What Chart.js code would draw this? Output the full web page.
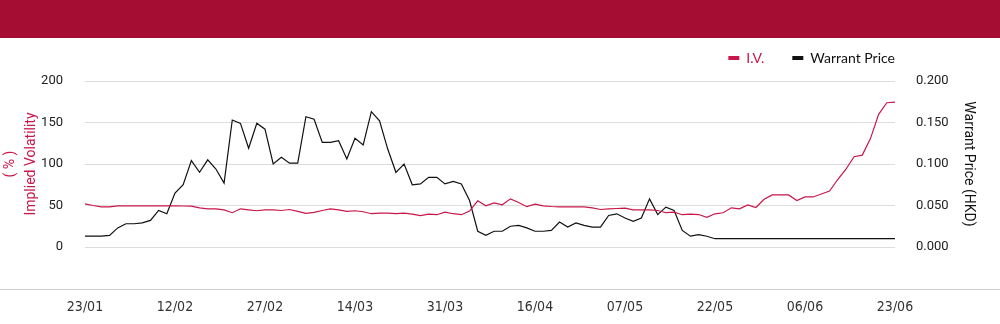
<!DOCTYPE html>
<html>
<head>
<meta charset="utf-8">
<script src="https://cdn.jsdelivr.net/npm/chart.js@4"></script>
<style>
  html, body { margin: 0; padding: 0; background: #fff; }
  body { width: 1000px; height: 324px; position: relative; overflow: hidden; }
  #top { position: absolute; left: 0; top: 0; width: 1000px; height: 38px; background: #a50e32; z-index: 2; }
  #wrap { position: absolute; left: 0; top: 23px; width: 1000px; height: 301px; z-index: 1; }
</style>
</head>
<body>
<div id="top"></div>
<div id="wrap"><canvas id="ivChart" width="1000" height="301"></canvas></div>
<script>
const dates = [
  "23/01","24/01","26/01","27/01","30/01","31/01","01/02","02/02","06/02","08/02","09/02",
  "12/02","13/02","14/02","15/02","16/02","17/02","20/02","21/02","22/02","23/02","24/02",
  "27/02","28/02","01/03","02/03","03/03","06/03","07/03","08/03","09/03","10/03","13/03",
  "14/03","15/03","16/03","17/03","20/03","21/03","22/03","23/03","24/03","27/03","29/03",
  "31/03","03/04","04/04","05/04","06/04","07/04","10/04","11/04","12/04","13/04","14/04",
  "16/04","18/04","19/04","20/04","21/04","24/04","25/04","26/04","27/04","28/04","03/05",
  "07/05","08/05","09/05","10/05","11/05","12/05","15/05","16/05","17/05","18/05","19/05",
  "22/05","23/05","24/05","25/05","26/05","29/05","30/05","31/05","01/06","02/06","05/06",
  "06/06","07/06","08/06","09/06","12/06","13/06","14/06","15/06","16/06","19/06","20/06",
  "23/06"
]

// implied volatility, %
const ivValues = [
  52, 50, 48.4, 48.4, 49.6, 49.6, 49.6, 49.6, 49.6, 49.6, 49.6,
  49.6, 49.4, 49.2, 47.2, 46, 46, 44.8, 41.3, 46, 44.8, 43.7,
  44.8, 44.8, 44, 45.2, 42.9, 40.5, 41.7, 44, 46, 44.8, 42.9,
  43.7, 42.5, 40.1, 40.9, 40.9, 40.1, 40.9, 39.7, 37.7, 39.7, 38.9,
  42, 40.1, 38.9, 43.3, 55.6, 49.6, 53.2, 50.8, 58, 53.6, 48.6,
  51.6, 49.6, 48.8, 48.4, 48.4, 48.4, 48.4, 47.2, 45.2, 46, 46.4,
  46.8, 44.8, 44.8, 44.8, 44, 41.3, 42, 38.9, 39.7, 39.1, 35.7,
  40, 41.3, 47.2, 46, 50.8, 47.6, 57.5, 62.7, 62.7, 62.7, 56,
  60.3, 60.3, 63.9, 67.5, 81.3, 93.7, 108.7, 110.7, 130.6, 159.9, 173.8,
  174.6
]

// warrant price, HKD
const priceValues = [
  0.013, 0.013, 0.013, 0.014, 0.023, 0.028, 0.028, 0.029, 0.032, 0.044, 0.040,
  0.065, 0.075, 0.104, 0.090, 0.105, 0.094, 0.077, 0.153, 0.149, 0.119, 0.149,
  0.142, 0.100, 0.108, 0.101, 0.101, 0.157, 0.154, 0.126, 0.126, 0.128, 0.106,
  0.131, 0.123, 0.163, 0.152, 0.118, 0.090, 0.100, 0.075, 0.076, 0.084, 0.084,
  0.076, 0.079, 0.076, 0.056, 0.019, 0.014, 0.019, 0.019, 0.025, 0.026, 0.023,
  0.019, 0.019, 0.020, 0.030, 0.024, 0.029, 0.026, 0.024, 0.024, 0.038, 0.040,
  0.035, 0.031, 0.035, 0.058, 0.039, 0.048, 0.044, 0.020, 0.013, 0.015, 0.013,
  0.010, 0.010, 0.010, 0.010, 0.010, 0.010, 0.010, 0.010, 0.010, 0.010, 0.010,
  0.010, 0.010, 0.010, 0.010, 0.010, 0.010, 0.010, 0.010, 0.010, 0.010, 0.010,
  0.010
]

const labelEvery = 11
const ivRed = "#c8174a"
const tickFont = { family: "Roboto, 'Liberation Sans', sans-serif", size: 13 }

// long grey rule under the plot, full page width
const baseRule = {
  id: "baseRule",
  afterDraw(chart) {
    const c = chart.ctx
    const y = Math.round(chart.chartArea.bottom + 42) + 0.5
    c.save()
    c.strokeStyle = "#cccccc"
    c.lineWidth = 1
    c.beginPath()
    c.moveTo(0, y)
    c.lineTo(chart.width, y)
    c.stroke()
    c.restore()
  }
}

// legend sits flush with the right edge of the plot, not the canvas
const legendShift = {
  id: "legendShift",
  afterLayout(chart) {
    const lg = chart.legend
    if (!lg) return
    const dx = chart.chartArea.right + lg.options.labels.padding - lg.right
    lg.left += dx
    lg.right += dx
  }
}

const ctx = document.getElementById("ivChart").getContext("2d")

const data = {
  labels: dates,
  datasets: [{
    label: "I.V.",
    data: ivValues,
    yAxisID: "yIV",
    borderColor: ivRed,
    backgroundColor: ivRed,
    borderWidth: 1.2,
    pointRadius: 0,
    tension: 0
  }, {
    label: "Warrant Price",
    data: priceValues,
    yAxisID: "yPrice",
    borderColor: "#111111",
    backgroundColor: "#111111",
    borderWidth: 1.2,
    pointRadius: 0,
    tension: 0
  }]
}

const config = {
  type: "line",
  data,
  plugins: [baseRule, legendShift],
  options: {
    responsive: false,
    animation: false,
    layout: { padding: 0 },
    plugins: {
      tooltip: { enabled: false },
      title: {
        display: true,
        text: "",
        weight: 500,
        padding: 0,
        font: { size: 4, lineHeight: 1.5 }
      },
      legend: {
        position: "top",
        align: "end",
        labels: {
          boxWidth: 11,
          boxHeight: 4,
          padding: 28,
          font: { family: "Lato, 'Open Sans', sans-serif", size: 14 },
          color: "#111",
          generateLabels(chart) {
            return chart.data.datasets.map((ds, i) => ({
              text: ds.label,
              fillStyle: ds.borderColor,
              strokeStyle: ds.borderColor,
              lineWidth: 0,
              fontColor: i === 0 ? ivRed : "#111",
              hidden: false,
              datasetIndex: i
            }))
          }
        }
      }
    },
    scales: {
      x: {
        grid: { display: false, drawTicks: false },
        border: { display: false },
        ticks: {
          autoSkip: false,
          maxRotation: 0,
          padding: 52,
          color: "#333",
          font: { family: "'Liberation Sans Narrow', 'DejaVu Sans Condensed', sans-serif", size: 14 },
          callback: (v, i) => (i % labelEvery === 0 ? dates[i] : "")
        },
        afterFit(s) { s.height = 77 }
      },
      yIV: {
        position: "left",
        min: 0,
        max: 200,
        border: { display: false },
        grid: { drawTicks: false, color: "#dddddd" },
        ticks: {
          stepSize: 50,
          padding: 22,
          color: "#222",
          font: tickFont
        },
        title: {
          display: true,
          text: ["( % )", "Implied Volatility"],
          color: ivRed,
          padding: { top: 0, bottom: 0 },
          font: { family: "Roboto, 'Liberation Sans', sans-serif", size: 14, lineHeight: 1.5 }
        },
        afterFit(s) { s.width = 85 }
      },
      yPrice: {
        position: "right",
        min: 0,
        max: 0.2,
        border: { display: false },
        grid: { display: false, drawTicks: false },
        ticks: {
          stepSize: 0.05,
          padding: 21,
          color: "#222",
          font: tickFont,
          callback: (v) => Number(v).toFixed(3)
        },
        title: {
          display: true,
          text: "Warrant Price (HKD)",
          color: "#111",
          padding: { top: 21, bottom: 0 },
          font: { family: "Roboto, 'Liberation Sans', sans-serif", size: 14, lineHeight: 1.5 }
        },
        afterFit(s) { s.width = 105 }
      }
    }
  }
}

const ivChart = new Chart(ctx, config)
</script>
</body>
</html>
